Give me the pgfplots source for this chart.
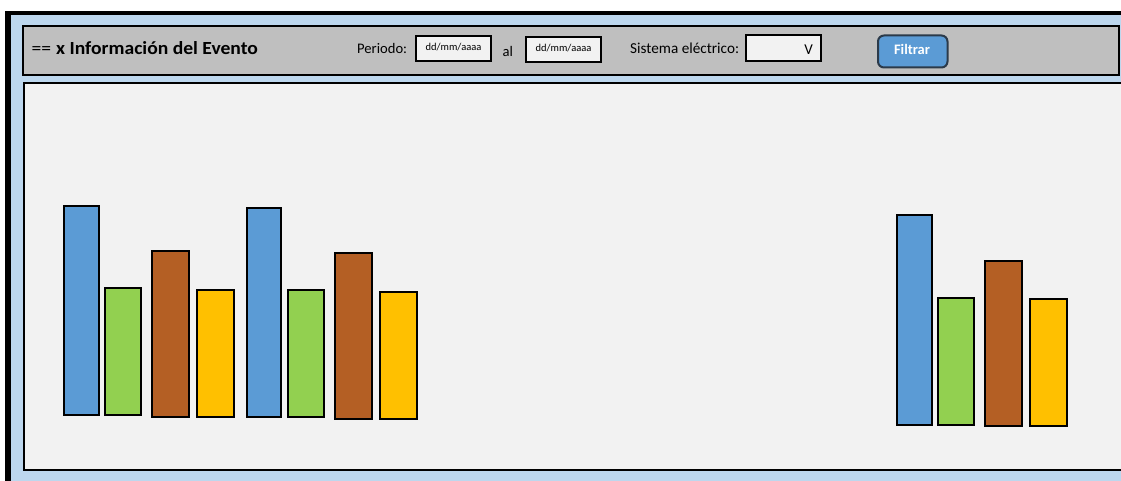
\documentclass[border=0pt]{standalone}
\usepackage{pgfplots}
\pgfplotsset{compat=1.18}
\usepackage{fontspec}
\setmainfont{Carlito}
\definecolor{bgblue}{HTML}{BDD7EE}
\definecolor{hdrgrey}{HTML}{BFBFBF}
\definecolor{panel}{HTML}{F2F2F2}
\definecolor{cblue}{HTML}{5B9BD5}
\definecolor{cgreen}{HTML}{92D050}
\definecolor{cbrown}{HTML}{B45F24}
\definecolor{cyellow}{HTML}{FFC000}
\definecolor{btnedge}{HTML}{2B3A4A}
\newcommand{\rbox}[5]{\addplot[#5] coordinates {(#1,#3) (#2,#3) (#2,#4) (#1,#4)} --cycle;}
\begin{document}
\begin{tikzpicture}
\begin{axis}[
  x=1pt, y=1pt, y dir=reverse,
  xmin=0, xmax=1121, ymin=0, ymax=481,
  hide axis, clip=true,
]
% background / frame
\rbox{0}{1121}{0}{481}{fill=white, draw=none}
\rbox{5}{1140}{11}{500}{fill=black, draw=none}
\rbox{10.5}{1140}{15}{500}{fill=bgblue, draw=none}
% header
\rbox{23}{1119}{26}{75}{fill=hdrgrey, draw=black, line width=2pt}
% panel
\rbox{24}{1140}{83.5}{470}{fill=panel, draw=black, line width=2pt}
% input boxes
\rbox{416}{491}{36}{61}{fill=panel, draw=black, line width=2pt}
\rbox{526}{601}{37.5}{62.5}{fill=panel, draw=black, line width=2pt}
\rbox{746}{821}{35.5}{61}{fill=panel, draw=black, line width=2pt}
\draw[fill=cblue, draw=btnedge, line width=2pt, rounded corners=6pt] (axis cs:878,35.5) rectangle (axis cs:947.5,67.5);
% bars group 1
\rbox{63.5}{98.5}{414.5}{206}{fill=cblue, draw=black, line width=2pt}
\rbox{104.5}{140.5}{414.5}{288}{fill=cgreen, draw=black, line width=2pt}
\rbox{151.5}{189}{416.5}{251}{fill=cbrown, draw=black, line width=2pt}
\rbox{197}{233.5}{416.5}{290}{fill=cyellow, draw=black, line width=2pt}
\rbox{246.5}{280.5}{416.5}{207.5}{fill=cblue, draw=black, line width=2pt}
\rbox{287.5}{323.5}{416.5}{290}{fill=cgreen, draw=black, line width=2pt}
\rbox{334.5}{372}{418.5}{253}{fill=cbrown, draw=black, line width=2pt}
\rbox{380}{416.5}{418.5}{291.5}{fill=cyellow, draw=black, line width=2pt}
% bars group 2
\rbox{896.5}{931.5}{424.5}{215}{fill=cblue, draw=black, line width=2pt}
\rbox{937.5}{974}{424.5}{297.5}{fill=cgreen, draw=black, line width=2pt}
\rbox{984.5}{1022}{426}{260.5}{fill=cbrown, draw=black, line width=2pt}
\rbox{1029.5}{1066.5}{426}{299}{fill=cyellow, draw=black, line width=2pt}
% texts
\node[anchor=base west, inner sep=0pt] at (axis cs:31.5,55) {\scalebox{1.06}[1]{\fontsize{18.5}{20}\selectfont ==\hspace{0.25em}\textbf{x Información del Evento}}};
\node[anchor=base west, inner sep=0pt] at (axis cs:357,53.5) {\fontsize{14.6}{16}\selectfont Periodo:};
\node[anchor=base west, inner sep=0pt] at (axis cs:502.5,56.5) {\fontsize{14.6}{16}\selectfont al};
\node[anchor=base west, inner sep=0pt] at (axis cs:630,53.5) {\fontsize{15.2}{17}\selectfont Sistema eléctrico:};
\node[anchor=base, inner sep=0pt] at (axis cs:453.5,51) {\fontsize{10.5}{12}\selectfont dd/mm/aaaa};
\node[anchor=base, inner sep=0pt] at (axis cs:563.5,52) {\fontsize{10.5}{12}\selectfont dd/mm/aaaa};
\node[anchor=base east, inner sep=0pt] at (axis cs:813,55) {\fontsize{15}{17}\selectfont V};
\node[anchor=base, inner sep=0pt, text=white] at (axis cs:912,55) {\fontsize{14.5}{16}\selectfont\bfseries Filtrar};
\end{axis}
\end{tikzpicture}
\end{document}
